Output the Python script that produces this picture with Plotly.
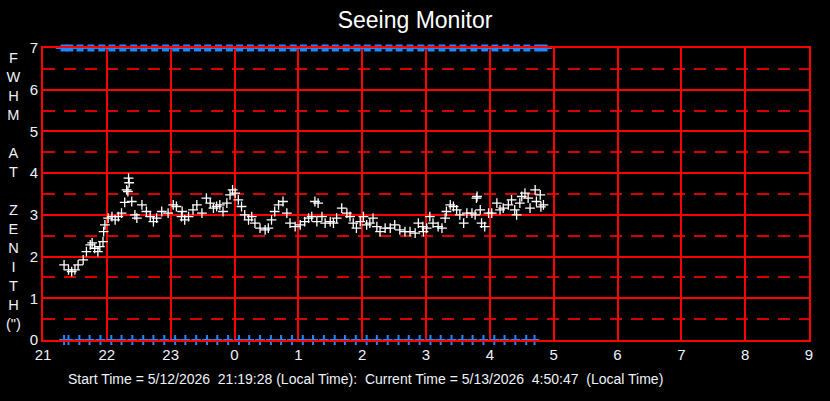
import plotly.graph_objects as go

# horas decimais contadas a partir das 21h (24.5 = 0:30 do dia seguinte)
hours = [21.33, 21.40, 21.45, 21.50, 21.55, 21.63, 21.68, 21.74, 21.77, 21.81,
         21.86, 21.89, 21.94, 21.95, 21.97, 22.02, 22.08, 22.13, 22.18, 22.23,
         22.28, 22.31, 22.33, 22.34, 22.35, 22.39, 22.44, 22.47, 22.55, 22.62,
         22.68, 22.73, 22.78, 22.86, 22.96, 23.04, 23.09, 23.17, 23.18, 23.22,
         23.28, 23.35, 23.41, 23.49, 23.56, 23.62, 23.67, 23.72, 23.77, 23.82,
         23.88, 23.93, 23.97, 24.01, 24.06, 24.11, 24.16, 24.22, 24.27, 24.32,
         24.40, 24.48, 24.53, 24.58, 24.63, 24.69, 24.76, 24.82, 24.87, 24.95,
         25.03, 25.10, 25.16, 25.21, 25.26, 25.29, 25.31, 25.37, 25.42, 25.50,
         25.55, 25.60, 25.68, 25.76, 25.81, 25.86, 25.91, 25.97, 26.02, 26.07,
         26.12, 26.17, 26.23, 26.28, 26.36, 26.44, 26.51, 26.59, 26.67, 26.75,
         26.83, 26.88, 26.95, 26.96, 27.01, 27.06, 27.11, 27.19, 27.25, 27.30,
         27.32, 27.38, 27.43, 27.48, 27.53, 27.59, 27.64, 27.72, 27.77, 27.79,
         27.80, 27.85, 27.87, 27.92, 27.98, 28.03, 28.11, 28.16, 28.21, 28.29,
         28.34, 28.39, 28.42, 28.47, 28.50, 28.55, 28.60, 28.63, 28.71, 28.73,
         28.79, 28.80, 28.84]
fwhm = [1.80, 1.68, 1.64, 1.68, 1.80, 1.92, 2.12, 2.28, 2.33, 2.20,
        2.12, 2.24, 2.36, 2.60, 2.76, 2.92, 2.96, 2.88, 2.96, 3.04,
        3.30, 3.60, 3.56, 3.88, 3.77, 3.32, 3.00, 2.92, 3.24, 3.08,
        2.96, 2.84, 2.92, 3.08, 3.04, 3.24, 3.20, 2.96, 3.08, 2.88,
        2.96, 3.12, 3.24, 3.04, 3.40, 3.28, 3.16, 3.20, 3.24, 3.08,
        3.28, 3.48, 3.60, 3.52, 3.36, 3.20, 3.00, 2.88, 2.96, 2.80,
        2.68, 2.64, 2.68, 2.88, 3.08, 3.24, 3.32, 3.04, 2.80, 2.72,
        2.76, 2.84, 2.92, 2.96, 3.32, 2.84, 3.28, 2.96, 2.80, 2.84,
        2.80, 2.92, 3.16, 3.04, 2.96, 2.80, 2.68, 2.84, 2.96, 2.76,
        2.80, 2.92, 2.72, 2.60, 2.68, 2.68, 2.76, 2.64, 2.60, 2.60,
        2.56, 2.80, 2.72, 2.60, 2.68, 2.96, 2.80, 2.72, 2.68, 2.92,
        3.08, 3.24, 3.20, 3.12, 3.00, 2.80, 3.04, 3.04, 3.00, 3.40,
        3.44, 3.12, 2.80, 2.72, 3.04, 3.04, 3.28, 3.12, 3.16, 3.24,
        3.36, 3.12, 3.00, 3.28, 3.44, 3.52, 3.40, 3.16, 3.60, 3.32,
        3.48, 3.19, 3.24]

# marcadores azuis (status) a cada ~10 minutos
status_hours = [21.33, 21.40, 21.57, 21.73, 21.90, 22.07, 22.23, 22.40, 22.57, 22.73,
                22.90, 23.07, 23.23, 23.40, 23.57, 23.73, 23.90, 24.07, 24.23, 24.40,
                24.57, 24.73, 24.90, 25.07, 25.23, 25.40, 25.57, 25.73, 25.90, 26.07,
                26.23, 26.40, 26.57, 26.73, 26.90, 27.07, 27.23, 27.40, 27.57, 27.73,
                27.90, 28.07, 28.23, 28.40, 28.57, 28.70]
top_hours = [21.33, 21.42, 21.58, 21.75, 21.92, 22.08, 22.25, 22.42, 22.58, 22.75,
             22.92, 23.08, 23.25, 23.42, 23.58, 23.75, 23.92, 24.08, 24.25, 24.42,
             24.58, 24.75, 24.92, 25.08, 25.25, 25.42, 25.58, 25.75, 25.92, 26.08,
             26.25, 26.42, 26.58, 26.75, 26.92, 27.08, 27.25, 27.42, 27.58, 27.75,
             27.92, 28.08, 28.25, 28.42, 28.58, 28.75, 28.85]
bottom_level = [0.0] * len(status_hours)
top_level = [7.0] * len(top_hours)

tick_vals = [21, 22, 23, 24, 25, 26, 27, 28, 29, 30, 31, 32, 33]
tick_text = ["21", "22", "23", "0", "1", "2", "3", "4", "5", "6", "7", "8", "9"]
y_ticks = [0, 1, 2, 3, 4, 5, 6, 7]

FONT = "Liberation Sans, Arial, sans-serif"
TXT = "#eef2f8"
RED = "#ff0000"
BLUE = "#1e88ff"

fig = go.Figure()

# barra superior: tracinhos ligando os quadrados
fig.add_trace(go.Scatter(
    x=top_hours, y=top_level, mode="markers", cliponaxis=False,
    marker=dict(symbol="line-ew", size=12, line=dict(color=BLUE, width=2)),
    hoverinfo="skip", showlegend=False))
fig.add_trace(go.Scatter(
    x=top_hours, y=top_level, mode="markers", cliponaxis=False,
    marker=dict(symbol="square", size=7, color=BLUE, line=dict(width=0)),
    hoverinfo="skip", showlegend=False))

fig.add_trace(go.Scatter(
    x=status_hours, y=bottom_level, mode="markers", cliponaxis=False,
    marker=dict(symbol="cross-thin", size=7, line=dict(color=BLUE, width=2)),
    hoverinfo="skip", showlegend=False))

fig.add_trace(go.Scatter(
    x=hours, y=fwhm, mode="markers",
    marker=dict(symbol="cross-thin", size=7, line=dict(color="white", width=1.3)),
    showlegend=False))

fig.update_xaxes(
    range=[21, 33], tickvals=tick_vals, ticktext=tick_text,
    showgrid=True, gridcolor=RED, gridwidth=1.5,
    showline=True, linecolor=RED, linewidth=2, mirror=True,
    zeroline=False, ticks="",
    tickfont=dict(family=FONT, size=15, color=TXT))

fig.update_yaxes(
    range=[0, 7], tickvals=y_ticks,
    showgrid=True, gridcolor=RED, gridwidth=1.5,
    minor=dict(tick0=0.5, dtick=1, showgrid=True, gridcolor="#d80000",
               gridwidth=1.5, griddash="12px,9px"),
    showline=True, linecolor=RED, linewidth=2, mirror=True,
    zeroline=False, ticks="",
    tickfont=dict(family=FONT, size=15, color=TXT))

fig.add_annotation(
    text="F<br>W<br>H<br>M<br> <br>A<br>T<br> <br>Z<br>E<br>N<br>I<br>T<br>H<br>(\")",
    xref="paper", yref="paper", x=-0.039, y=0.51,
    xanchor="center", yanchor="middle", showarrow=False,
    font=dict(family=FONT, size=14.6, color=TXT))

fig.add_annotation(
    text="Start Time = 5/12/2026  21:19:28 (Local Time):  Current Time = 5/13/2026  4:50:47  (Local Time)",
    xref="paper", yref="paper", x=0.030, y=-0.134,
    xanchor="left", yanchor="middle", showarrow=False,
    font=dict(family=FONT, size=14, color=TXT))

fig.update_layout(
    width=830, height=401,
    paper_bgcolor="black", plot_bgcolor="black",
    margin=dict(l=43, r=21, t=48, b=61),
    title=dict(text="Seeing Monitor", x=0.5, xanchor="center",
               y=1 - 20 / 401, yanchor="middle",
               font=dict(family=FONT, size=23, color="white")))

# tira a margem padrão do body para a figura encostar no canto da janela
fig.write_html("out.html", config={"displayModeBar": False},
               post_script="document.body.style.margin='0';")
